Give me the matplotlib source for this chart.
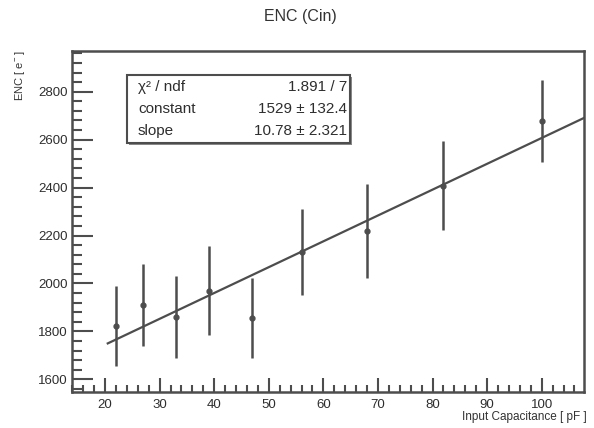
import numpy as np
import matplotlib
matplotlib.use('Agg')
import matplotlib.pyplot as plt
from matplotlib.ticker import MultipleLocator
from matplotlib.patches import Rectangle

# dados
cin = [22, 27, 33, 39, 47, 56, 68, 82, 100]
enc = [1822, 1910, 1862, 1970, 1856, 2130, 2220, 2408, 2677]
enc_err = [168, 170, 171, 185, 165, 180, 197, 187, 172]

# parâmetros do ajuste
constant = 1529
slope = 10.78
fit_range = [20.5, 108]

stats_labels = ['χ² / ndf', 'constant', 'slope']
stats_values = ['1.891 / 7', '1529 ± 132.4', '10.78 ± 2.321']

cor = '#4d4d4d'
plt.rcParams['font.family'] = ['Liberation Sans', 'DejaVu Sans']
plt.rcParams['mathtext.fontset'] = 'custom'
plt.rcParams['mathtext.rm'] = 'Liberation Sans'

W, H = 594, 428
fig = plt.figure(figsize=(W / 100, H / 100), dpi=100)
ax = fig.add_axes([72 / W, 1 - 392.3 / H, (584 - 72) / W, (392.3 - 50.7) / H])

ax.errorbar(cin, enc, yerr=enc_err, fmt='o', ms=3.5, color=cor, ecolor=cor,
            elinewidth=1.8, capsize=0)

xf = np.linspace(fit_range[0], fit_range[1], 50)
ax.plot(xf, constant + slope * xf, color=cor, lw=1.6)

ax.set_xlim(13.95, 107.75)
ax.set_ylim(1546, 2971)

ax.xaxis.set_major_locator(MultipleLocator(10))
ax.xaxis.set_minor_locator(MultipleLocator(2))
ax.yaxis.set_major_locator(MultipleLocator(200))
ax.yaxis.set_minor_locator(MultipleLocator(40))
ax.tick_params(axis='both', which='both', direction='in', color=cor,
               labelcolor='#2e2e2e', labelsize=9.5, width=1.5)
ax.tick_params(axis='y', which='major', length=15, pad=3)
ax.tick_params(axis='y', which='minor', length=7)
ax.tick_params(axis='x', which='major', length=10, pad=5)
ax.tick_params(axis='x', which='minor', length=5)
ax.tick_params(axis='both', which='both', top=False, right=False)
for t in (ax.xaxis.get_major_ticks() + ax.xaxis.get_minor_ticks()
          + ax.yaxis.get_major_ticks() + ax.yaxis.get_minor_ticks()):
    t.tick2line.set_visible(False)
for s in ax.spines.values():
    s.set_color(cor)
    s.set_linewidth(1.8)

fig.text(300 / W, 1 - 17 / H, 'ENC (Cin)', ha='center', va='center',
         fontsize=11.5, color='#333333')
fig.text(587 / W, 1 - 417 / H, 'Input Capacitance [ pF ]', ha='right',
         va='center', fontsize=8.5, color='#333333')
fig.text(20 / W, 1 - 50 / H, 'ENC [ e$^{-}$ ]', ha='center', va='top',
         rotation=90, fontsize=8, color='#333333')

# caixa de estatísticas
bx0, bx1, by0, by1 = 127, 350, 75, 143
fig.add_artist(Rectangle((bx0 / W + 1.5 / W, 1 - by1 / H - 2 / H),
                         (bx1 - bx0) / W, (by1 - by0) / H,
                         transform=fig.transFigure, facecolor='#8a8a8a',
                         edgecolor='none', zorder=4))
fig.add_artist(Rectangle((bx0 / W, 1 - by1 / H), (bx1 - bx0) / W, (by1 - by0) / H,
                         transform=fig.transFigure, facecolor='white',
                         edgecolor=cor, lw=1.5, zorder=5))
for i, (lab, val) in enumerate(zip(stats_labels, stats_values)):
    yy = 1 - (87 + i * 22) / H
    fig.text(138 / W, yy, lab, ha='left', va='center', fontsize=11,
             color='#2e2e2e', zorder=6)
    fig.text(347 / W, yy, val, ha='right', va='center', fontsize=11,
             color='#2e2e2e', zorder=6)

fig.savefig('out.png', dpi=100)
